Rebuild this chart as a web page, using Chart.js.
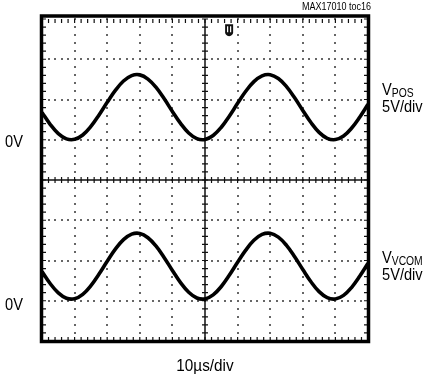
<!DOCTYPE html>
<html>
<head>
<meta charset="utf-8">
<script src="https://cdn.jsdelivr.net/npm/chart.js@4.4.1/dist/chart.umd.min.js"></script>
<style>
html,body{margin:0;padding:0;background:#fff;}
#wrap{position:relative;width:426px;height:376px;}
</style>
</head>
<body>
<div id="wrap"><canvas id="c" width="426" height="376"></canvas></div>
<script>
// time axis (µs), 10 µs/div
const timeUs = [0,2.5,5,7.5,10,12.5,15,17.5,20,22.5,25,27.5,30,32.5,35,37.5,40,42.5,45,47.5,50,52.5,55,57.5,60,62.5,65,67.5,70,72.5,75,77.5,80,82.5,85,87.5,90,92.5,95,97.5,100];
// VPOS (V)
const vPos = [3.39,1.92,0.77,0.11,0.05,0.59,1.65,3.08,4.65,6.13,7.30,7.97,8.06,7.54,6.50,5.08,3.51,2.03,0.84,0.14,0.03,0.53,1.55,2.96,4.52,6.02,7.22,7.94,8.08,7.60,6.60,5.21,3.64,2.14,0.92,0.18,0.02,0.47,1.46,2.83,4.40];
// VVCOM (V)
const vVcom = [3.63,2.14,0.98,0.31,0.25,0.80,1.88,3.32,4.91,6.41,7.59,8.27,8.36,7.83,6.78,5.35,3.76,2.25,1.05,0.34,0.23,0.73,1.77,3.19,4.78,6.29,7.51,8.24,8.38,7.90,6.88,5.47,3.88,2.36,1.13,0.38,0.22,0.67,1.67,3.07,4.65];
// screen: 8 vertical divisions at 5 V/div, channel ground levels (in volts on screen)
const voltsPerDiv = 5;
const ch1Ground = 5;    // +1 div
const ch2Ground = -15;  // -3 div
const xTicks = [0,10,20,30,40,50,60,70,80,90,100];
const yTicks = [-20,-15,-10,-5,0,5,10,15,20];

const FONT = '"Liberation Sans",Arial,sans-serif';

// condensed text helper (horizontal squeeze)
function cText(ctx, str, px, py, size, align, sx) {
  ctx.save();
  ctx.font = size + 'px ' + FONT;
  ctx.textAlign = align;
  ctx.translate(px, py);
  ctx.scale(sx, 1);
  ctx.fillText(str, 0, 0);
  const w = ctx.measureText(str).width * sx;
  ctx.restore();
  return w;
}

const scopePlugin = {
  id: 'scope',
  beforeDatasetsDraw(chart) {
    const {ctx, chartArea: a, scales: {x, y}} = chart;
    ctx.save();
    ctx.fillStyle = '#666';
    // dotted grid
    for (const xv of xTicks) {
      if (xv === 0 || xv === 100 || xv === 50) continue;
      const px = x.getPixelForValue(xv);
      for (let yv = -20; yv <= 20.001; yv += 1) {
        ctx.fillRect(Math.round(px) - 1, Math.round(y.getPixelForValue(yv)) - 1, 2, 2);
      }
    }
    for (const yv of yTicks) {
      if (yv === -20 || yv === 20 || yv === 0) continue;
      const py = y.getPixelForValue(yv);
      for (let xv = 0; xv <= 100.001; xv += 2) {
        ctx.fillRect(Math.round(x.getPixelForValue(xv)) - 1, Math.round(py) - 1, 2, 2);
      }
    }
    // center axes with tick marks
    ctx.strokeStyle = '#111';
    ctx.lineWidth = 1.5;
    const cx = x.getPixelForValue(50), cy = y.getPixelForValue(0);
    ctx.beginPath();
    ctx.moveTo(cx, a.top); ctx.lineTo(cx, a.bottom);
    ctx.moveTo(a.left, cy); ctx.lineTo(a.right, cy);
    ctx.stroke();
    ctx.lineWidth = 1.2;
    ctx.beginPath();
    for (let xv = 0; xv <= 100.001; xv += 2) {
      const px = x.getPixelForValue(xv);
      ctx.moveTo(px, cy - 3); ctx.lineTo(px, cy + 3);
      ctx.moveTo(px, a.top); ctx.lineTo(px, a.top + 4);
      ctx.moveTo(px, a.bottom); ctx.lineTo(px, a.bottom - 4);
    }
    for (let yv = -20; yv <= 20.001; yv += 1) {
      const py = y.getPixelForValue(yv);
      ctx.moveTo(cx - 3, py); ctx.lineTo(cx + 3, py);
      ctx.moveTo(a.left, py); ctx.lineTo(a.left + 4, py);
      ctx.moveTo(a.right, py); ctx.lineTo(a.right - 4, py);
    }
    ctx.stroke();
    ctx.restore();
  },
  afterDraw(chart) {
    const {ctx, chartArea: a, scales: {x, y}} = chart;
    ctx.save();
    // frame
    ctx.strokeStyle = '#000';
    ctx.lineWidth = 3.5;
    ctx.strokeRect(a.left - 0.5, a.top - 3, a.right - a.left + 1, a.bottom - a.top + 3.5);
    // trigger marker
    const mx = x.getPixelForValue(57.4), my = y.getPixelForValue(18.6);
    ctx.fillStyle = '#111';
    ctx.beginPath();
    ctx.moveTo(mx - 4, my - 6); ctx.lineTo(mx + 4, my - 6); ctx.lineTo(mx + 4, my + 2);
    ctx.quadraticCurveTo(mx + 4, my + 5, mx, my + 6);
    ctx.quadraticCurveTo(mx - 4, my + 5, mx - 4, my + 2);
    ctx.closePath(); ctx.fill();
    ctx.strokeStyle = '#fff'; ctx.lineWidth = 1.2;
    ctx.beginPath(); ctx.moveTo(mx - 1.5, my - 4); ctx.lineTo(mx - 1.5, my + 2);
    ctx.moveTo(mx + 1.5, my - 4); ctx.lineTo(mx + 1.5, my + 2); ctx.stroke();
    // texts
    ctx.fillStyle = '#000';
    ctx.textBaseline = 'alphabetic';
    cText(ctx, 'MAX17010 toc16', a.right + 3, 9.5, 10, 'right', 0.9);
    cText(ctx, '0V', 5, y.getPixelForValue(ch1Ground) + 7, 17, 'left', 0.86);
    cText(ctx, '0V', 5, y.getPixelForValue(ch2Ground) + 9, 17, 'left', 0.86);
    const lx = a.right + 14;
    // VPOS
    let w = cText(ctx, 'V', lx, 95, 17, 'left', 0.86);
    cText(ctx, 'POS', lx + w, 97, 12, 'left', 0.86);
    cText(ctx, '5V/div', lx, 112, 17, 'left', 0.86);
    // VVCOM
    w = cText(ctx, 'V', lx, 263, 17, 'left', 0.86);
    cText(ctx, 'VCOM', lx + w, 265, 12, 'left', 0.86);
    cText(ctx, '5V/div', lx, 280, 17, 'left', 0.86);
    cText(ctx, '10\u00B5s/div', x.getPixelForValue(50), 371, 17, 'center', 0.9);
    ctx.restore();
  }
};

new Chart(document.getElementById('c'), {
  type: 'line',
  data: {
    datasets: [
      { label: 'VPOS', data: timeUs.map((t, i) => ({x: t, y: ch1Ground + vPos[i]})) },
      { label: 'VVCOM', data: timeUs.map((t, i) => ({x: t, y: ch2Ground + vVcom[i]})) }
    ]
  },
  options: {
    responsive: false,
    animation: false,
    events: [],
    layout: { padding: { left: 42, right: 58, top: 19, bottom: 35 } },
    elements: {
      line: { borderColor: '#000', borderWidth: 3.6, tension: 0.4, fill: false },
      point: { radius: 0 }
    },
    plugins: { legend: { display: false }, tooltip: { enabled: false } },
    scales: {
      x: { type: 'linear', min: 0, max: 100, display: false },
      y: { type: 'linear', min: -4 * voltsPerDiv, max: 4 * voltsPerDiv, display: false }
    }
  },
  plugins: [scopePlugin]
});
</script>
</body>
</html>
